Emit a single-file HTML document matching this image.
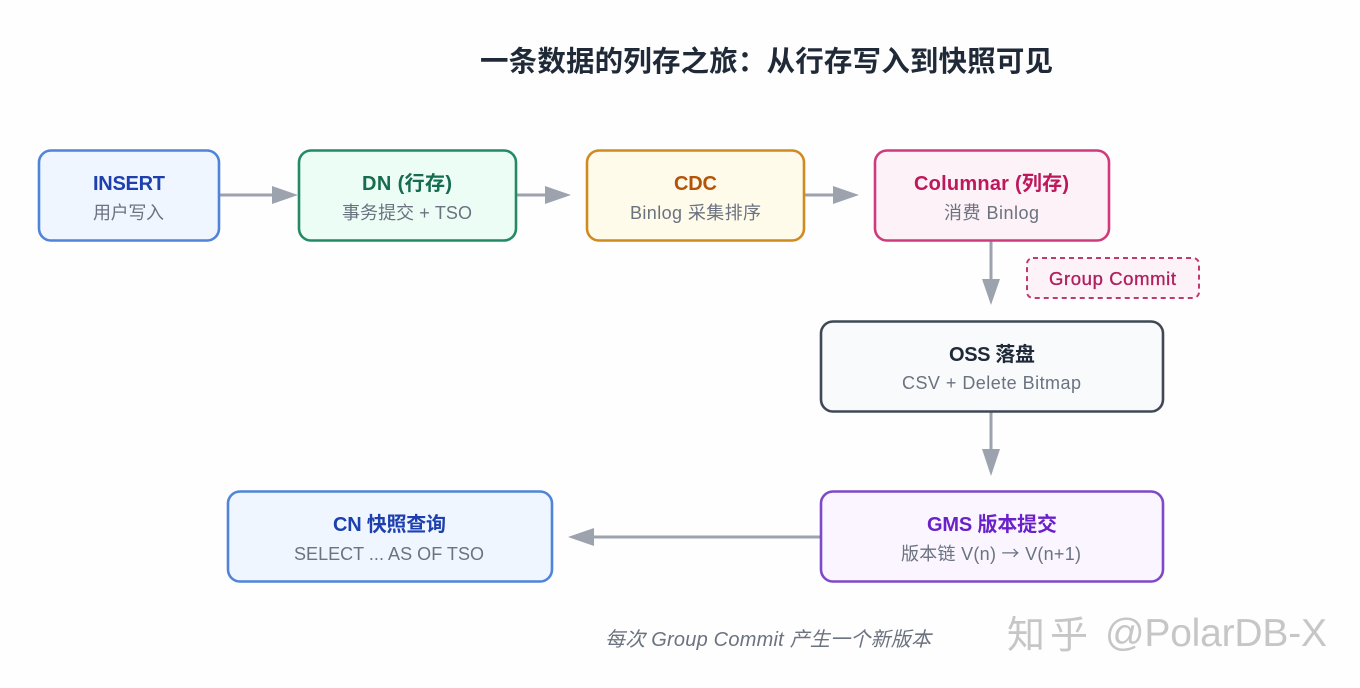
<!DOCTYPE html>
<html lang="zh-CN"><head><meta charset="utf-8">
<style>
html,body{margin:0;padding:0;background:#fefefe;width:1360px;height:688px;overflow:hidden}
svg{display:block}
text{font-family:"Liberation Sans","Noto Sans CJK SC",sans-serif;text-anchor:middle}
.t{font-size:20px;font-weight:700}
.s{font-size:18px;fill:#6b7280}
.b{stroke-width:2.6}
.l{stroke:#9ca3af;stroke-width:3;fill:none}
.a{fill:#9ca3af}
</style></head><body>
<svg width="1360" height="688" viewBox="0 0 1360 688" xmlns="http://www.w3.org/2000/svg">
<rect width="1360" height="688" fill="#fefefe"/>
<text x="766.500" y="71" font-size="28.500" font-weight="700" fill="#1f2937" textLength="573" lengthAdjust="spacing">一条数据的列存之旅：从行存写入到快照可见</text>

<path class="l" d="M219 195H274M516 195H547M804 195H835M991 240V280M991 411V450M820 537H592"/>
<path class="a" d="M272 186L298 195L272 204ZM545 186L571 195L545 204ZM833 186L859 195L833 204ZM982 279L991 305L1000 279ZM982 449L991 476L1000 449ZM594 528L568 537L594 546Z"/>

<rect class="b" x="39" y="150.500" width="180" height="90" rx="12" fill="#eff6ff" stroke="#4f84d9"/>
<text class="t" x="129" y="190" fill="#1e40af" textLength="72" lengthAdjust="spacing">INSERT</text>
<text class="s" x="128.500" y="219" textLength="71" lengthAdjust="spacing">用户写入</text>

<rect class="b" x="299" y="150.500" width="217" height="90" rx="12" fill="#ecfdf5" stroke="#238a64"/>
<text class="t" x="407" y="190" fill="#166c50" textLength="90" lengthAdjust="spacing">DN (行存)</text>
<text class="s" x="407" y="219" textLength="130" lengthAdjust="spacing">事务提交 + TSO</text>

<rect class="b" x="587" y="150.500" width="217" height="90" rx="12" fill="#fffbeb" stroke="#d08a1e"/>
<text class="t" x="695.500" y="190" fill="#b45309" textLength="43" lengthAdjust="spacing">CDC</text>
<text class="s" x="695.500" y="219" textLength="131" lengthAdjust="spacing">Binlog 采集排序</text>

<rect class="b" x="875" y="150.500" width="234" height="90" rx="12" fill="#fdf2f8" stroke="#cf3a7d"/>
<text class="t" x="991.500" y="190" fill="#be185d" textLength="155" lengthAdjust="spacing">Columnar (列存)</text>
<text class="s" x="991.500" y="219" textLength="95" lengthAdjust="spacing">消费 Binlog</text>

<rect x="1027" y="258" width="172" height="40" rx="6" fill="#fdf2f8" stroke="#be3a70" stroke-width="2" stroke-dasharray="5 4"/>
<text x="1112.500" y="285" font-size="18.500" fill="#b0205f" stroke="#b0205f" stroke-width=".35" textLength="127" lengthAdjust="spacing">Group Commit</text>

<rect class="b" x="821" y="321.500" width="342" height="90" rx="12" fill="#f8fafc" stroke="#414855"/>
<text class="t" x="992" y="361" fill="#1f2937" textLength="86" lengthAdjust="spacing">OSS 落盘</text>
<text class="s" x="991.500" y="389" textLength="179" lengthAdjust="spacing">CSV + Delete Bitmap</text>

<rect class="b" x="821" y="491.500" width="342" height="90" rx="12" fill="#faf5ff" stroke="#7e48c8"/>
<text class="t" x="992" y="531" fill="#6b21c8" textLength="130" lengthAdjust="spacing">GMS 版本提交</text>
<text class="s" x="991" y="560" textLength="180" lengthAdjust="spacing">版本链 V(n) <tspan font-family="'Noto Sans CJK SC',sans-serif">→</tspan> V(n+1)</text>

<rect class="b" x="228" y="491.500" width="324" height="90" rx="12" fill="#eff6ff" stroke="#4f84d9"/>
<text class="t" x="389.500" y="531" fill="#1e40af" textLength="113" lengthAdjust="spacing">CN 快照查询</text>
<text class="s" x="389" y="560" textLength="190" lengthAdjust="spacing">SELECT ... AS OF TSO</text>

<text x="768" y="646" font-size="20" font-style="italic" fill="#6b7280" textLength="326" lengthAdjust="spacing">每次 Group Commit 产生一个新版本</text>

<text x="1047.500" y="648" font-size="38" fill="#c6c6c6" textLength="81" lengthAdjust="spacing">知乎</text>
<text x="1216" y="646" font-size="39" fill="#c6c6c6" textLength="222" lengthAdjust="spacing">@PolarDB-X</text>
</svg>
</body></html>
